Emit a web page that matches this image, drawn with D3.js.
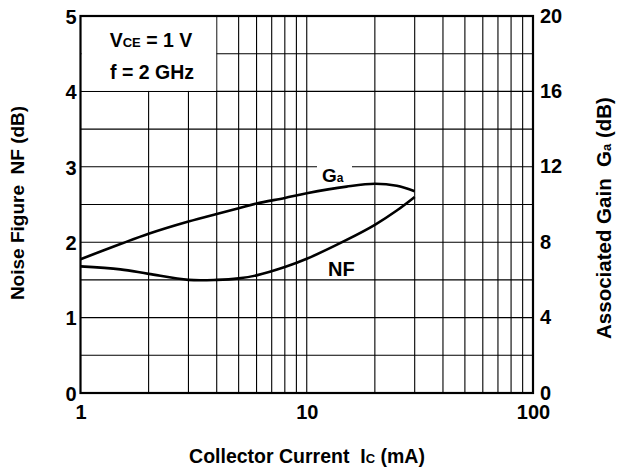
<!DOCTYPE html>
<html><head><meta charset="utf-8">
<script src="https://cdn.jsdelivr.net/npm/d3@7"></script>
<style>
html,body{margin:0;padding:0;background:#fff;}
svg text{font-family:"Liberation Sans",Arial,Helvetica,sans-serif;font-weight:bold;fill:#000;white-space:pre;}
</style></head><body>
<svg id="c" width="617" height="469"></svg>
<script>
const current = [1, 1.5, 2, 3, 4, 5, 6, 8, 10, 15, 20, 25, 30];
const nfValues = [1.68, 1.64, 1.58, 1.5, 1.5, 1.52, 1.56, 1.67, 1.78, 2.03, 2.23, 2.42, 2.6];
const gaValues = [7.1, 7.9, 8.45, 9.1, 9.5, 9.8, 10.05, 10.35, 10.6, 10.95, 11.1, 10.99, 10.7];
const xTicks = [1, 10, 100];
const nfTicks = [0, 1, 2, 3, 4, 5];
const gaTicks = [0, 4, 8, 12, 16, 20];

const svg = d3.select("#c");
const L = 80.5, R = 533, T = 16, B = 393;
const x = d3.scaleLog().domain([1, 100]).range([L, R]);
const y = d3.scaleLinear().domain([0, 5]).range([B, T]);
const y2 = d3.scaleLinear().domain([0, 20]).range([B, T]);

// grid
const g = svg.append("g");
const vgrid = [];
for (let d = 1; d <= 10; d *= 10) for (let k = 2; k <= 9; k++) vgrid.push(k * d);
vgrid.push(10);
vgrid.forEach(v => g.append("line").attr("x1", x(v)).attr("x2", x(v)).attr("y1", T).attr("y2", B)
  .attr("stroke", "#000").attr("stroke-width", 1.1));
for (let v = 0.5; v < 5; v += 0.5) g.append("line").attr("x1", L).attr("x2", R).attr("y1", y(v)).attr("y2", y(v))
  .attr("stroke", "#000").attr("stroke-width", 1.1);

// legend box (blank area)
svg.append("rect").attr("x", L + 1).attr("y", T + 1).attr("width", x(4) - L - 1.5).attr("height", y(4) - T - 1.5).attr("fill", "#fff");

// frame
svg.append("rect").attr("x", L).attr("y", T).attr("width", R - L).attr("height", B - T)
  .attr("fill", "none").attr("stroke", "#000").attr("stroke-width", 2.2);

// axes
const ax = svg.append("g").attr("transform", `translate(0,${B})`)
  .call(d3.axisBottom(x).tickValues(xTicks).tickFormat(d3.format("d")).tickSize(0).tickPadding(14));
const ay = svg.append("g").attr("transform", `translate(${L},0)`)
  .call(d3.axisLeft(y).tickValues(nfTicks).tickFormat(d3.format("d")).tickSize(0).tickPadding(4));
const ay2 = svg.append("g").attr("transform", `translate(${R},0)`)
  .call(d3.axisRight(y2).tickValues(gaTicks).tickFormat(d3.format("d")).tickSize(0).tickPadding(7));
[ax, ay, ay2].forEach(a => {
  a.select(".domain").remove();
  a.selectAll("text").style("font-size", "20px").attr("fill", "#000")
   .style("font-family", '"Liberation Sans",Arial,sans-serif').style("font-weight", "bold");
});
ax.selectAll("text").attr("dy", "0.62em");
ay.selectAll("text").attr("dy", "0.36em");
ay2.selectAll("text").attr("dy", "0.3em");

// curves
const line = d3.line().curve(d3.curveCatmullRom.alpha(0.5));
const ptsNF = current.map((c, i) => [x(c), y(nfValues[i])]);
const ptsGA = current.map((c, i) => [x(c), y2(gaValues[i])]);
svg.append("path").attr("d", line(ptsGA)).attr("fill", "none").attr("stroke", "#000").attr("stroke-width", 2.6);
svg.append("path").attr("d", line(ptsNF)).attr("fill", "none").attr("stroke", "#000").attr("stroke-width", 2.6);

// curve labels
svg.append("rect").attr("x", 317).attr("y", y(3) - 3).attr("width", 35).attr("height", 6).attr("fill", "#fff");
const gl = svg.append("text").attr("x", 322).attr("y", 182).style("font-size", "19px");
gl.append("tspan").text("G");
gl.append("tspan").text("a").style("font-size", "12px");
svg.append("text").attr("x", 328).attr("y", 276).style("font-size", "20px").text("NF");

// legend text
const t1 = svg.append("text").attr("x", 151).attr("y", 47).attr("text-anchor", "middle").style("font-size", "19.5px");
t1.append("tspan").text("V");
t1.append("tspan").text("CE").style("font-size", "13px");
t1.append("tspan").text(" = 1 V");
svg.append("text").attr("x", 152).attr("y", 79).attr("text-anchor", "middle").style("font-size", "19.5px").text("f = 2 GHz");

// axis titles
const xt = svg.append("text").attr("x", 307).attr("y", 463).attr("text-anchor", "middle").style("font-size", "19.5px");
xt.append("tspan").text("Collector Current  I");
xt.append("tspan").text("C").style("font-size", "13px");
xt.append("tspan").text(" (mA)");

svg.append("text").attr("transform", "translate(24,203) rotate(-90)").attr("text-anchor", "middle")
  .style("font-size", "19px").text("Noise Figure  NF (dB)");
const rt = svg.append("text").attr("transform", "translate(611,218) rotate(-90)").attr("text-anchor", "middle")
  .style("font-size", "20.5px");
rt.append("tspan").text("Associated Gain  G");
rt.append("tspan").text("a").style("font-size", "13px");
rt.append("tspan").text(" (dB)");
</script></body></html>
